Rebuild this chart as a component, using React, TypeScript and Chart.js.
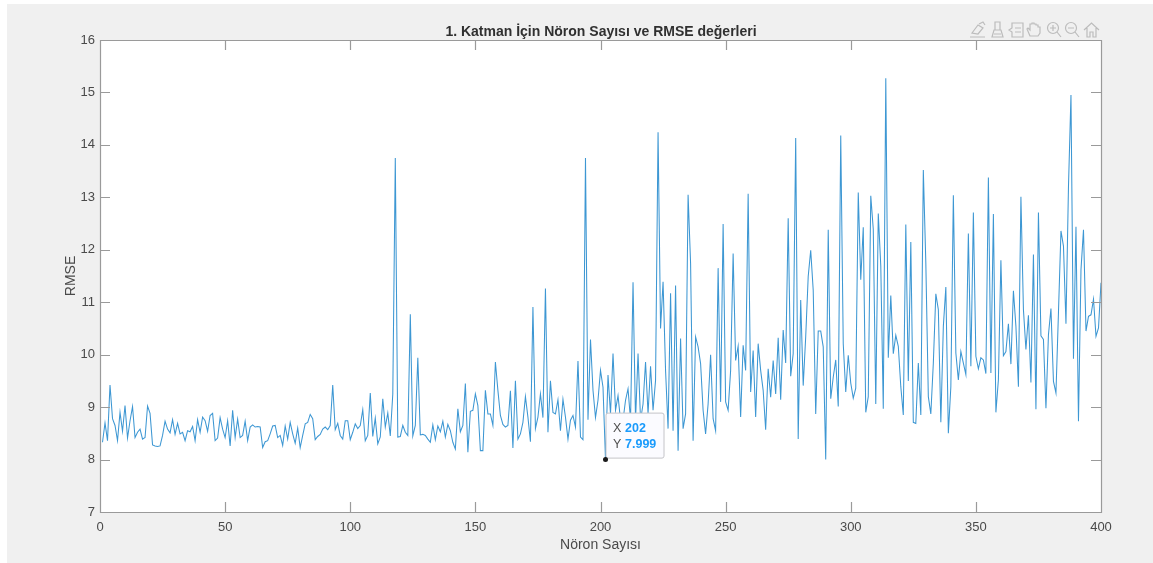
import React, { useEffect, useRef } from "react";
import { Chart, registerables } from "chart.js";

Chart.register(...registerables);

const rmse: number[] = [
  8.33, 8.7, 8.36, 9.42, 8.78, 8.65, 8.36, 8.9, 8.54, 9.03,
  8.41, 8.74, 9.01, 8.42, 8.52, 8.58, 8.39, 8.42, 9.02, 8.88,
  8.28, 8.26, 8.25, 8.26, 8.46, 8.73, 8.58, 8.51, 8.76, 8.48,
  8.69, 8.49, 8.52, 8.36, 8.55, 8.53, 8.63, 8.36, 8.76, 8.52,
  8.81, 8.74, 8.54, 8.84, 8.88, 8.36, 8.41, 8.8, 8.58, 8.42,
  8.74, 8.26, 8.94, 8.42, 8.77, 8.42, 8.46, 8.73, 8.36, 8.62,
  8.66, 8.62, 8.63, 8.62, 8.23, 8.34, 8.36, 8.49, 8.64, 8.65,
  8.42, 8.46, 8.27, 8.64, 8.39, 8.71, 8.49, 8.31, 8.6, 8.23,
  8.46, 8.68, 8.71, 8.86, 8.78, 8.38, 8.44, 8.48, 8.58, 8.62,
  8.57, 8.65, 9.42, 8.57, 8.69, 8.46, 8.39, 8.74, 8.74,
  8.38, 8.52, 8.68, 8.59, 8.65, 8.95, 8.36, 8.46, 9.27, 8.44,
  8.79, 8.3, 8.43, 9.16, 8.62, 8.89, 8.45, 9.25, 13.75, 8.43,
  8.44, 8.65, 8.52, 8.46, 10.77, 8.45, 8.65, 9.94, 8.47, 8.48,
  8.46, 8.39, 8.33, 8.66, 8.38, 8.64, 8.53, 8.73, 8.43, 8.67,
  8.55, 8.33, 8.2, 8.97, 8.53, 8.65, 9.45, 8.14, 8.92, 8.94,
  9.25, 9.03, 8.17, 8.17, 9.32, 8.87, 8.87, 8.65, 9.86, 9.32,
  8.84, 8.67, 8.62, 8.65, 9.31, 8.22, 9.5, 8.39, 8.49, 8.71,
  9.2, 8.81, 8.34, 10.91, 8.59, 8.81, 9.25, 8.8, 11.26, 8.52,
  9.5, 8.9, 8.87, 9.14, 8.55, 9.15, 8.81, 8.39, 8.75, 8.84,
  8.62, 9.88, 8.43, 8.38, 13.75, 8.76, 10.29, 9.32, 8.8, 9.13,
  9.7, 9.38, 7.999, 9.61, 8.87, 10.02, 8.94, 9.22, 8.75, 8.75,
  9.13, 9.35, 8.75, 11.38, 8.75, 10.02, 8.75, 9.06, 9.86, 8.87,
  9.78, 8.94, 9.51, 14.24, 10.5, 11.39, 9.7, 8.59, 11.17, 8.55,
  11.32, 8.17, 10.31, 8.59, 8.87, 13.05, 11.74, 8.36, 10.34, 10.15,
  9.83, 8.94, 8.49, 9.06, 10.0, 8.78, 8.55, 11.65, 9.1, 12.49,
  9.1, 8.94, 9.7, 11.93, 9.89, 10.16, 8.81, 10.18, 9.7, 13.07,
  9.29, 10.08, 8.81, 10.21, 9.7, 9.32, 8.57, 9.73, 9.19, 9.89,
  9.25, 10.32, 9.14, 10.47, 9.84, 12.6, 9.59, 10.02, 14.13, 8.39,
  11.04, 9.41, 10.34, 11.49, 11.99, 11.23, 8.87, 10.45, 10.45, 10.15,
  8.0, 12.38, 9.16, 9.57, 9.9, 9.01, 14.18, 10.21, 9.29, 9.99,
  9.46, 9.17, 9.36, 13.09, 11.43, 12.43, 8.9, 9.2, 13.03, 12.39,
  9.06, 12.69, 11.69, 8.97, 15.27, 9.94, 11.13, 10.02, 10.37, 10.16,
  9.39, 8.85, 12.48, 9.5, 12.15, 8.71, 8.69, 9.84, 8.85, 13.52,
  11.75, 9.2, 8.87, 9.84, 11.16, 10.86, 8.71, 10.54, 11.29, 8.5,
  9.39, 13.04, 10.03, 9.52, 10.06, 9.84, 9.62, 12.31, 9.78, 12.71,
  9.97, 9.73, 9.94, 9.9, 9.64, 13.38, 9.65, 12.68, 8.9, 9.52,
  11.8, 9.98, 10.06, 10.59, 9.82, 11.22, 10.54, 9.39, 13.01, 10.86,
  10.1, 10.75, 9.47, 11.91, 8.96, 12.71, 10.36, 10.29, 8.98, 10.38,
  10.88, 9.49, 9.27, 10.8, 12.36, 12.07, 10.59, 13.2, 14.95, 9.92,
  12.44, 8.73, 11.62, 12.38, 10.45, 10.73, 10.76, 11.06, 10.35, 10.51, 11.37,
];
const neurons: number[] = rmse.map((_, i) => i + 1);
const tipX = 202;
const tipY = 7.999;

const titleText = "1. Katman İçin Nöron Sayısı ve RMSE değerleri";
const xTitle = "Nöron Sayısı";
const yTitle = "RMSE";
const FONT = '"Liberation Sans", Arial, sans-serif';
const INK = "#4a4a4a";
const BOX = "#9a9a9a";

const frame = {
  id: "frame",
  afterDraw(chart: any) {
    const { ctx, chartArea: a, scales } = chart;
    ctx.save();
    ctx.strokeStyle = BOX;
    ctx.lineWidth = 1.2;
    ctx.beginPath();
    ctx.rect(a.left + 0.5, a.top + 0.5, a.right - a.left, a.bottom - a.top);
    for (const t of scales.x.ticks) {
      const p = Math.round(scales.x.getPixelForValue(t.value)) + 0.5;
      ctx.moveTo(p, a.bottom); ctx.lineTo(p, a.bottom - 10);
      ctx.moveTo(p, a.top); ctx.lineTo(p, a.top + 10);
    }
    for (const t of scales.y.ticks) {
      const p = Math.round(scales.y.getPixelForValue(t.value)) + 0.5;
      ctx.moveTo(a.left, p); ctx.lineTo(a.left + 10, p);
      ctx.moveTo(a.right, p); ctx.lineTo(a.right - 10, p);
    }
    ctx.stroke();

    // data tip
    const px = scales.x.getPixelForValue(tipX);
    const py = scales.y.getPixelForValue(tipY);
    const bx = px + 0.5, by = py - 46.5, bw = 58, bh = 45;
    ctx.fillStyle = "#fbfbff";
    ctx.strokeStyle = "#c4c4c8";
    ctx.lineWidth = 1;
    ctx.beginPath();
    ctx.roundRect(bx, by, bw, bh, 2);
    ctx.fill();
    ctx.stroke();
    ctx.textBaseline = "middle";
    ctx.textAlign = "left";
    ctx.font = `12.5px ${FONT}`;
    ctx.fillStyle = "#505050";
    ctx.fillText("X", bx + 7, by + 15.5);
    ctx.fillText("Y", bx + 7, by + 31.5);
    ctx.font = `bold 12.5px ${FONT}`;
    ctx.fillStyle = "#1a9bfc";
    ctx.fillText(String(tipX), bx + 19, by + 15.5);
    ctx.fillText(String(tipY), bx + 19, by + 31.5);
    ctx.beginPath();
    ctx.arc(px, py, 2.5, 0, Math.PI * 2);
    ctx.fillStyle = "#1a1a1a";
    ctx.fill();
    ctx.restore();
  },
};

function Toolbar() {
  const s = { fill: "none", stroke: "#bcbcbc", strokeWidth: 1.2 } as const;
  return (
    <svg width={1153} height={563} style={{ position: "absolute", left: 0, top: 0, pointerEvents: "none" }}>
      <g {...s}>
        <path d="M970 37h15M972 33l6-8 5 3-5 6zM979 24l4-2 2 3" />
        <path d="M992 37l2-7h7l2 7zM995 30v-8h5v8M994 34h7" />
        <path d="M1012 23h11v14h-11v-5l-3-2 3-2zM1015 28h6M1015 32h6" />
        <path d="M1030 36l-3-7 1-1 2 2v-6h2v-1h2v1h2v1h2v2h2v6l-2 3z" />
        <circle cx={1053} cy={28} r={5.5} />
        <path d="M1057 32l4 5M1050 28h6M1053 25v6" />
        <circle cx={1071} cy={28} r={5.5} />
        <path d="M1075 32l4 5M1068 28h6" />
        <path d="M1084 30l7.5-7 7.5 7M1087 28v9h3v-5h3v5h3v-9" />
      </g>
    </svg>
  );
}

export default function App() {
  const ref = useRef<HTMLCanvasElement>(null);
  useEffect(() => {
    const chart = new Chart(ref.current!, {
      type: "line",
      data: {
        labels: neurons,
        datasets: [
          {
            data: neurons.map((x, i) => ({ x, y: rmse[i] })),
            borderColor: "#3d97d3",
            borderWidth: 1.05,
            pointRadius: 0,
            tension: 0,
            fill: false,
          },
        ],
      },
      options: {
        responsive: false,
        animation: false,
        layout: { padding: { left: 49, right: 0, top: 0, bottom: 0 } },
        plugins: {
          legend: { display: false },
          tooltip: { enabled: false },
          title: {
            display: true,
            text: titleText,
            color: "#303030",
            font: { family: FONT, size: 14, weight: "bold", lineHeight: 1 },
            padding: { top: 25, bottom: 1 },
          },
        },
        scales: {
          x: {
            type: "linear",
            min: 0,
            max: 400,
            afterFit: (s: any) => { s.height = 51; },
            ticks: { stepSize: 50, color: INK, font: { family: FONT, size: 13 }, maxRotation: 0, padding: 0 },
            grid: { display: false },
            border: { display: false },
            title: { display: true, text: xTitle, color: INK, font: { family: FONT, size: 14 }, padding: { top: 4, bottom: 9 } },
          },
          y: {
            min: 7,
            max: 16,
            afterFit: (s: any) => { s.width = 51; },
            ticks: { stepSize: 1, color: INK, font: { family: FONT, size: 13 }, padding: 5 },
            grid: { display: false, drawTicks: false },
            border: { display: false },
            title: { display: true, text: yTitle, color: INK, font: { family: FONT, size: 14 }, padding: { top: 14, bottom: 0 } },
          },
          yRight: {
            position: "right",
            min: 7,
            max: 16,
            afterFit: (s: any) => { s.width = 52; },
            ticks: { display: false },
            grid: { display: false },
            border: { display: false },
          },
        },
      },
      plugins: [frame],
    } as any);
    return () => chart.destroy();
  }, []);
  return (
    <div style={{ position: "fixed", left: 0, top: 0, width: 1153, height: 563, background: "#fff", overflow: "hidden" }}>
      <div style={{ position: "absolute", left: 7, top: 4, width: 1146, height: 559, background: "#f0f0f0" }} />
      <div style={{ position: "absolute", left: 100, top: 40, width: 1001, height: 472, background: "#fff" }} />
      <canvas ref={ref} width={1153} height={563} style={{ position: "absolute", left: 0, top: 0 }} />
      <Toolbar />
    </div>
  );
}
